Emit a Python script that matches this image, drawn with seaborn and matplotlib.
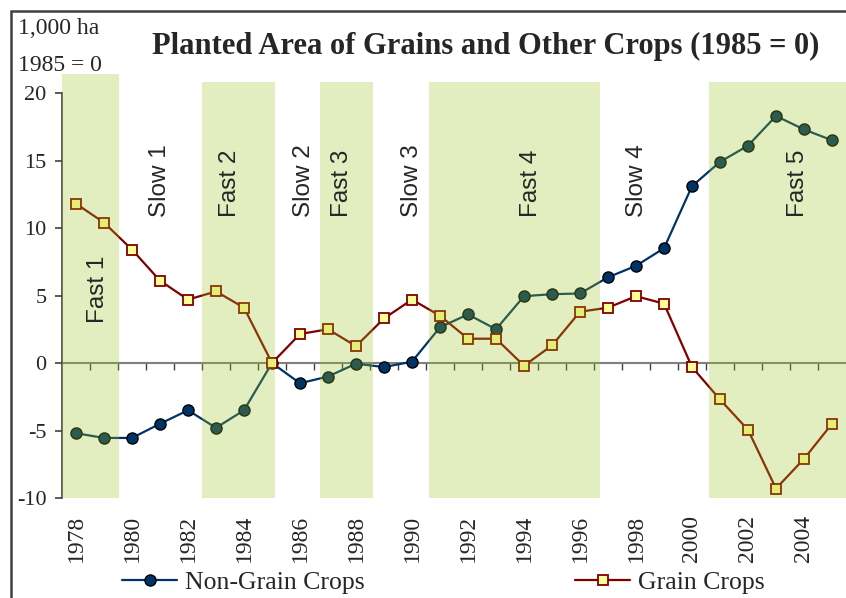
import numpy as np
import matplotlib
matplotlib.use("Agg")
import matplotlib.pyplot as plt
import seaborn as sns
from matplotlib.patches import Rectangle

# data
years = np.arange(1978, 2006)
non_grain = [-5.2, -5.55, -5.55, -4.5, -3.5, -4.8, -3.5, 0.0, -1.5, -1.0,
             -0.05, -0.3, 0.1, 2.65, 3.6, 2.5, 4.95, 5.1, 5.15, 6.35,
             7.2, 8.5, 13.1, 14.9, 16.1, 18.3, 17.3, 16.5]
grain = [11.8, 10.4, 8.4, 6.1, 4.7, 5.3, 4.1, 0.0, 2.15, 2.5,
         1.25, 3.3, 4.7, 3.5, 1.8, 1.8, -0.2, 1.3, 3.8, 4.1,
         4.95, 4.4, -0.3, -2.7, -4.95, -9.3, -7.1, -4.5]

# fast-growth bands (years) and phase labels
band_start = [1977.5, 1982.5, 1986.7, 1990.6, 2000.6]
band_end = [1979.55, 1985.1, 1988.6, 1996.7, 2005.5]
band_top = [21.4, 20.8, 20.8, 20.8, 20.8]
phase_names = ["Fast 1", "Slow 1", "Fast 2", "Slow 2", "Fast 3",
               "Slow 3", "Fast 4", "Slow 4", "Fast 5"]
phase_x = [1978.8, 1981.0, 1983.5, 1986.15, 1987.5, 1990.0, 1994.25, 1998.05, 2003.8]
phase_y = [2.95, 10.8, 10.8, 10.8, 10.8, 10.8, 10.8, 10.8, 10.8]

sns.set_style("white")
plt.rcParams["font.family"] = ["Liberation Serif", "DejaVu Serif"]
plt.rcParams["axes.unicode_minus"] = False

fig = plt.figure(figsize=(8.46, 5.98), dpi=100)
ax = fig.add_axes([62 / 846, 0.1672, 1 - 62 / 846, 0.8783 - 0.1672])

sns.lineplot(x=years, y=non_grain, ax=ax, color="#003366", lw=1.6, marker="o",
             markersize=8, markerfacecolor="#003366", markeredgecolor="black",
             markeredgewidth=1.0, label="Non-Grain Crops", zorder=3)
sns.lineplot(x=years, y=grain, ax=ax, color="#800000", lw=1.6, marker="s",
             markersize=7.5, markerfacecolor="#FFFF99", markeredgecolor="#800000",
             markeredgewidth=1.3, label="Grain Crops", zorder=3)

# shaded bands on top of lines, translucent like the original
for s, e, t in zip(band_start, band_end, band_top):
    ax.bar((s + e) / 2, t + 10, width=e - s, bottom=-10, color="#9CC41E",
           alpha=0.28, lw=0, zorder=4, clip_on=False)

for name, x, y in zip(phase_names, phase_x, phase_y):
    ax.text(x, y, name, rotation=90, ha="center", va="bottom", fontsize=17.5,
            family="Liberation Sans", zorder=5)

ax.set_xlim(1977.5, 2005.5)
ax.set_ylim(-10, 21.5)
ax.set_yticks(np.arange(-10, 21, 5))
ax.set_xticks(years[::2])
ax.set_xticklabels([str(y) for y in years[::2]], rotation=90)
ax.tick_params(axis="x", length=0, pad=12, labelsize=17)
ax.tick_params(axis="y", length=5, width=1.2, direction="out", color="#404040",
               pad=6, labelsize=16, left=True)
for side in ["top", "right", "bottom"]:
    ax.spines[side].set_visible(False)
ax.spines["left"].set_bounds(-10, 20)
ax.spines["left"].set_color("#404040")
ax.spines["left"].set_linewidth(1.2)
ax.set_xlabel("")
ax.set_ylabel("")

# category-axis line at zero with between-category ticks
zero = ax.secondary_xaxis(10 / 31.5)
zero.set_xticks(years[:-1] + 0.5)
zero.set_xticklabels([])
zero.tick_params(length=5, width=1.0, color="#404040", direction="out")
zero.spines["bottom"].set_color("#808080")
zero.spines["bottom"].set_linewidth(1.5)

handles, labels = ax.get_legend_handles_labels()
ax.get_legend().remove()
fig.legend(handles, labels, loc="center", bbox_to_anchor=(0.524, 0.026), ncol=2,
           frameon=False, fontsize=18.5, handlelength=2.15, handletextpad=0.3,
           columnspacing=8.2)

fig.text(0.574, 0.923, "Planted Area of Grains and Other Crops (1985 = 0)",
         ha="center", va="center", fontsize=22, fontweight="bold")
fig.text(0.021, 0.952, "1,000 ha", ha="left", va="center", fontsize=17)
fig.text(0.021, 0.89, "1985 = 0", ha="left", va="center", fontsize=17)

# outer frame of the figure box
fig.patches.append(Rectangle((11 / 846, -0.1), 1.2, 1 - 11 / 598 + 0.1,
                             transform=fig.transFigure, fill=False,
                             edgecolor="#404040", lw=1.8))

fig.savefig("out.png", dpi=100)
